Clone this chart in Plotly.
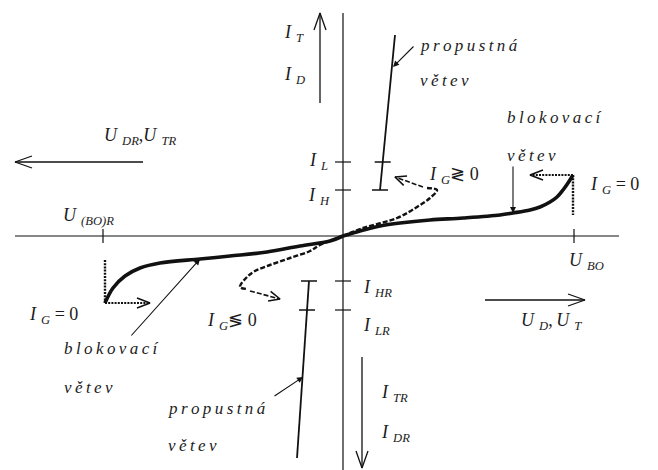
import math
import plotly.graph_objects as go

# Plane of the thyristor U-I characteristic; one unit = one screen pixel,
# origin where the two axes cross.
X_RANGE = [-343, 315]
Y_RANGE = [-234, 236]

# Axis extents
U_AXIS = [-328, 276]
I_AXIS = [-234, 223]

# Characteristic levels
U_BO = 231        # forward breakover voltage
U_BO_R = -240     # reverse breakover voltage
I_H, I_L = 46, 74          # holding / latching current
I_HR, I_LR = -45, -74      # reverse holding / latching current

# Forward blocking branch (I_G = 0), origin -> breakover
fwd_block_u = [0, 17, 37, 57, 87, 120, 157, 170, 187, 197, 207, 214, 220, 225, 230]
fwd_block_i = [0, 5, 10, 13, 16, 18, 21, 23, 26, 29, 34, 39, 46, 53, 61]

# Reverse blocking branch (I_G = 0), origin -> reverse breakover
rev_block_u = [0, -13, -43, -76, -113, -143, -183, -203, -218, -230, -238]
rev_block_i = [0, -5, -10, -16, -20, -23, -27, -32, -40, -52, -67]

# Gate-controlled switching paths (dashed)
fwd_gate_u = [0, 20, 54, 74, 87, 94, 84]
fwd_gate_i = [0, 8, 18, 29, 38, 46, 48]
rev_gate_u = [0, -23, -33, -53, -73, -88, -96, -103, -95]
rev_gate_i = [0, -9, -15, -22, -29, -35, -41, -51, -53]

# On-state (conducting) branches: [bottom, top] end points
on_fwd_u = [37, 52]
on_fwd_i = [46, 201]
on_rev_u = [-34, -46]
on_rev_i = [-45, -222]

INK = "#111111"
TXT = "#1c1c1c"
SERIF = "Liberation Serif"

fig = go.Figure()


def line(xs, ys, width=1.3, dash=None, shape="linear"):
    fig.add_trace(go.Scatter(
        x=xs, y=ys, mode="lines",
        line=dict(color=INK, width=width, dash=dash, shape=shape),
        hoverinfo="skip", showlegend=False))


def open_head(tip, tail, length=17, half=6, width=1.3):
    dx, dy = tip[0] - tail[0], tip[1] - tail[1]
    n = math.hypot(dx, dy)
    ux, uy = dx / n, dy / n
    bx, by = tip[0] - ux * length, tip[1] - uy * length
    px, py = -uy * half, ux * half
    line([bx + px, tip[0], bx - px], [by + py, tip[1], by - py], width=width)


def arrow(tail, tip, width=1.3, dash=None, length=17, half=6):
    line([tail[0], tip[0]], [tail[1], tip[1]], width=width, dash=dash)
    open_head(tip, tail, length, half, width=min(width, 1.6))


def interp_u(us, is_, level):
    (u0, u1), (i0, i1) = us, is_
    return u0 + (u1 - u0) * (level - i0) / (i1 - i0)


# --- axes ---------------------------------------------------------------
line(U_AXIS, [0, 0], width=1.2)
line([0, 0], I_AXIS, width=1.2)
for u in (U_BO, U_BO_R):
    line([u, u], [-7, 7], width=1.2)
for i in (I_H, I_L, I_HR, I_LR):
    line([-8, 8], [i, i], width=1.2)

# Direction arrows beside the axes
arrow((-23, 133), (-23, 223))          # I_T, I_D
arrow((19, -121), (19, -232))          # I_TR, I_DR
arrow((-200, 74), (-328, 74))          # U_DR, U_TR
arrow((142, -64), (242, -64))          # U_D, U_T

# --- characteristic -----------------------------------------------------
line(fwd_block_u, fwd_block_i, width=3.6, shape="spline")
line(rev_block_u, rev_block_i, width=3.6, shape="spline")
line(fwd_gate_u, fwd_gate_i, width=2.4, dash="5px,2px", shape="spline")
line(rev_gate_u, rev_gate_i, width=2.4, dash="5px,2px", shape="spline")

# small arrows at the ends of the gate-controlled paths
arrow((80, 49), (52, 59), width=1.6, dash="5px,2px", length=11, half=5)
arrow((-93, -55), (-63, -63), width=1.6, dash="5px,2px", length=11, half=5)

# dotted I_G = 0 breakover corners
line([U_BO - 1, U_BO - 1], [fwd_block_i[-1], 21], width=2.4, dash="2px,1.2px")
arrow((U_BO - 1, fwd_block_i[-1]), (187, fwd_block_i[-1]), width=2.2,
      dash="2px,1.2px", length=13, half=5)
line([rev_block_u[-1], rev_block_u[-1]], [-24, rev_block_i[-1]], width=2.4,
     dash="2px,1.2px")
arrow((rev_block_u[-1], rev_block_i[-1]), (-193, rev_block_i[-1]), width=2.2,
      dash="2px,1.2px", length=13, half=5)

# on-state branches with their holding / latching bars
line(on_fwd_u, on_fwd_i, width=1.8)
line(on_rev_u, on_rev_i, width=1.8)
for lvl in (I_H, I_L):
    uc = interp_u(on_fwd_u, on_fwd_i, lvl)
    line([uc - 8, uc + 8], [lvl, lvl], width=1.5)
for lvl in (I_HR, I_LR):
    uc = interp_u(on_rev_u, on_rev_i, lvl)
    line([uc - 8, uc + 8], [lvl, lvl], width=1.5)

# --- labels ---------------------------------------------------------------
TS = "\u2009"


def spaced(word):
    return "<i>" + TS.join(word) + "</i>"


def label(x, y, text, size=18):
    fig.add_annotation(x=x, y=y, text=text, showarrow=False,
                       xanchor="left", yanchor="middle",
                       font=dict(family=SERIF, size=size, color=TXT))


def pointer(tail, tip):
    fig.add_annotation(x=tip[0], y=tip[1], ax=tail[0], ay=tail[1],
                       axref="x", ayref="y", xref="x", yref="y", text="",
                       showarrow=True, arrowhead=2, arrowsize=1.1,
                       arrowwidth=1.1, arrowcolor=INK)


def sym(base, sub):
    return f"<i>{base}</i><sub>{TS}{TS}<i>{sub}</i></sub>"


label(-61, 203, sym("I", "T"))
label(-61, 161, sym("I", "D"))
label(-36, 75, sym("I", "L"))
label(-37, 40, sym("I", "H"))
label(18, -52, sym("I", "HR"))
label(18, -90, sym("I", "LR"))
label(36, -157, sym("I", "TR"))
label(36, -197, sym("I", "DR"))
label(-241, 100, sym("U", "DR") + "," + sym("U", "TR"))
label(-282, 20, sym("U", "(BO)R"))
label(224, -25, sym("U", "BO"))
label(176, -85, sym("U", "D") + "," + TS + sym("U", "T"))

label(245, 51, sym("I", "G") + " = 0")
label(-316, -79, sym("I", "G") + " = 0")
label(84, 61, sym("I", "G") + "\u2277 0")
label(-138, -85, sym("I", "G") + "\u2276 0")

label(75, 191, spaced("propustná"), size=17)
label(75, 156, spaced("větev"), size=17)
label(-177, -172, spaced("propustná"), size=17)
label(-177, -209, spaced("větev"), size=17)
label(162, 119, spaced("blokovací"), size=17)
label(162, 81, spaced("větev"), size=17)
label(-281, -112, spaced("blokovací"), size=17)
label(-281, -151, spaced("větev"), size=17)

pointer((72, 191), (50, 169))
pointer((170, 71), (170, 23))
pointer((-213, -101), (-143, -23))
pointer((-70, -161), (-40, -141))

fig.update_layout(
    width=658, height=470,
    margin=dict(l=0, r=0, t=0, b=0),
    paper_bgcolor="white", plot_bgcolor="white",
    xaxis=dict(range=X_RANGE, visible=False, fixedrange=True),
    yaxis=dict(range=Y_RANGE, visible=False, fixedrange=True),
    showlegend=False,
)

fig.write_html("out.html")
